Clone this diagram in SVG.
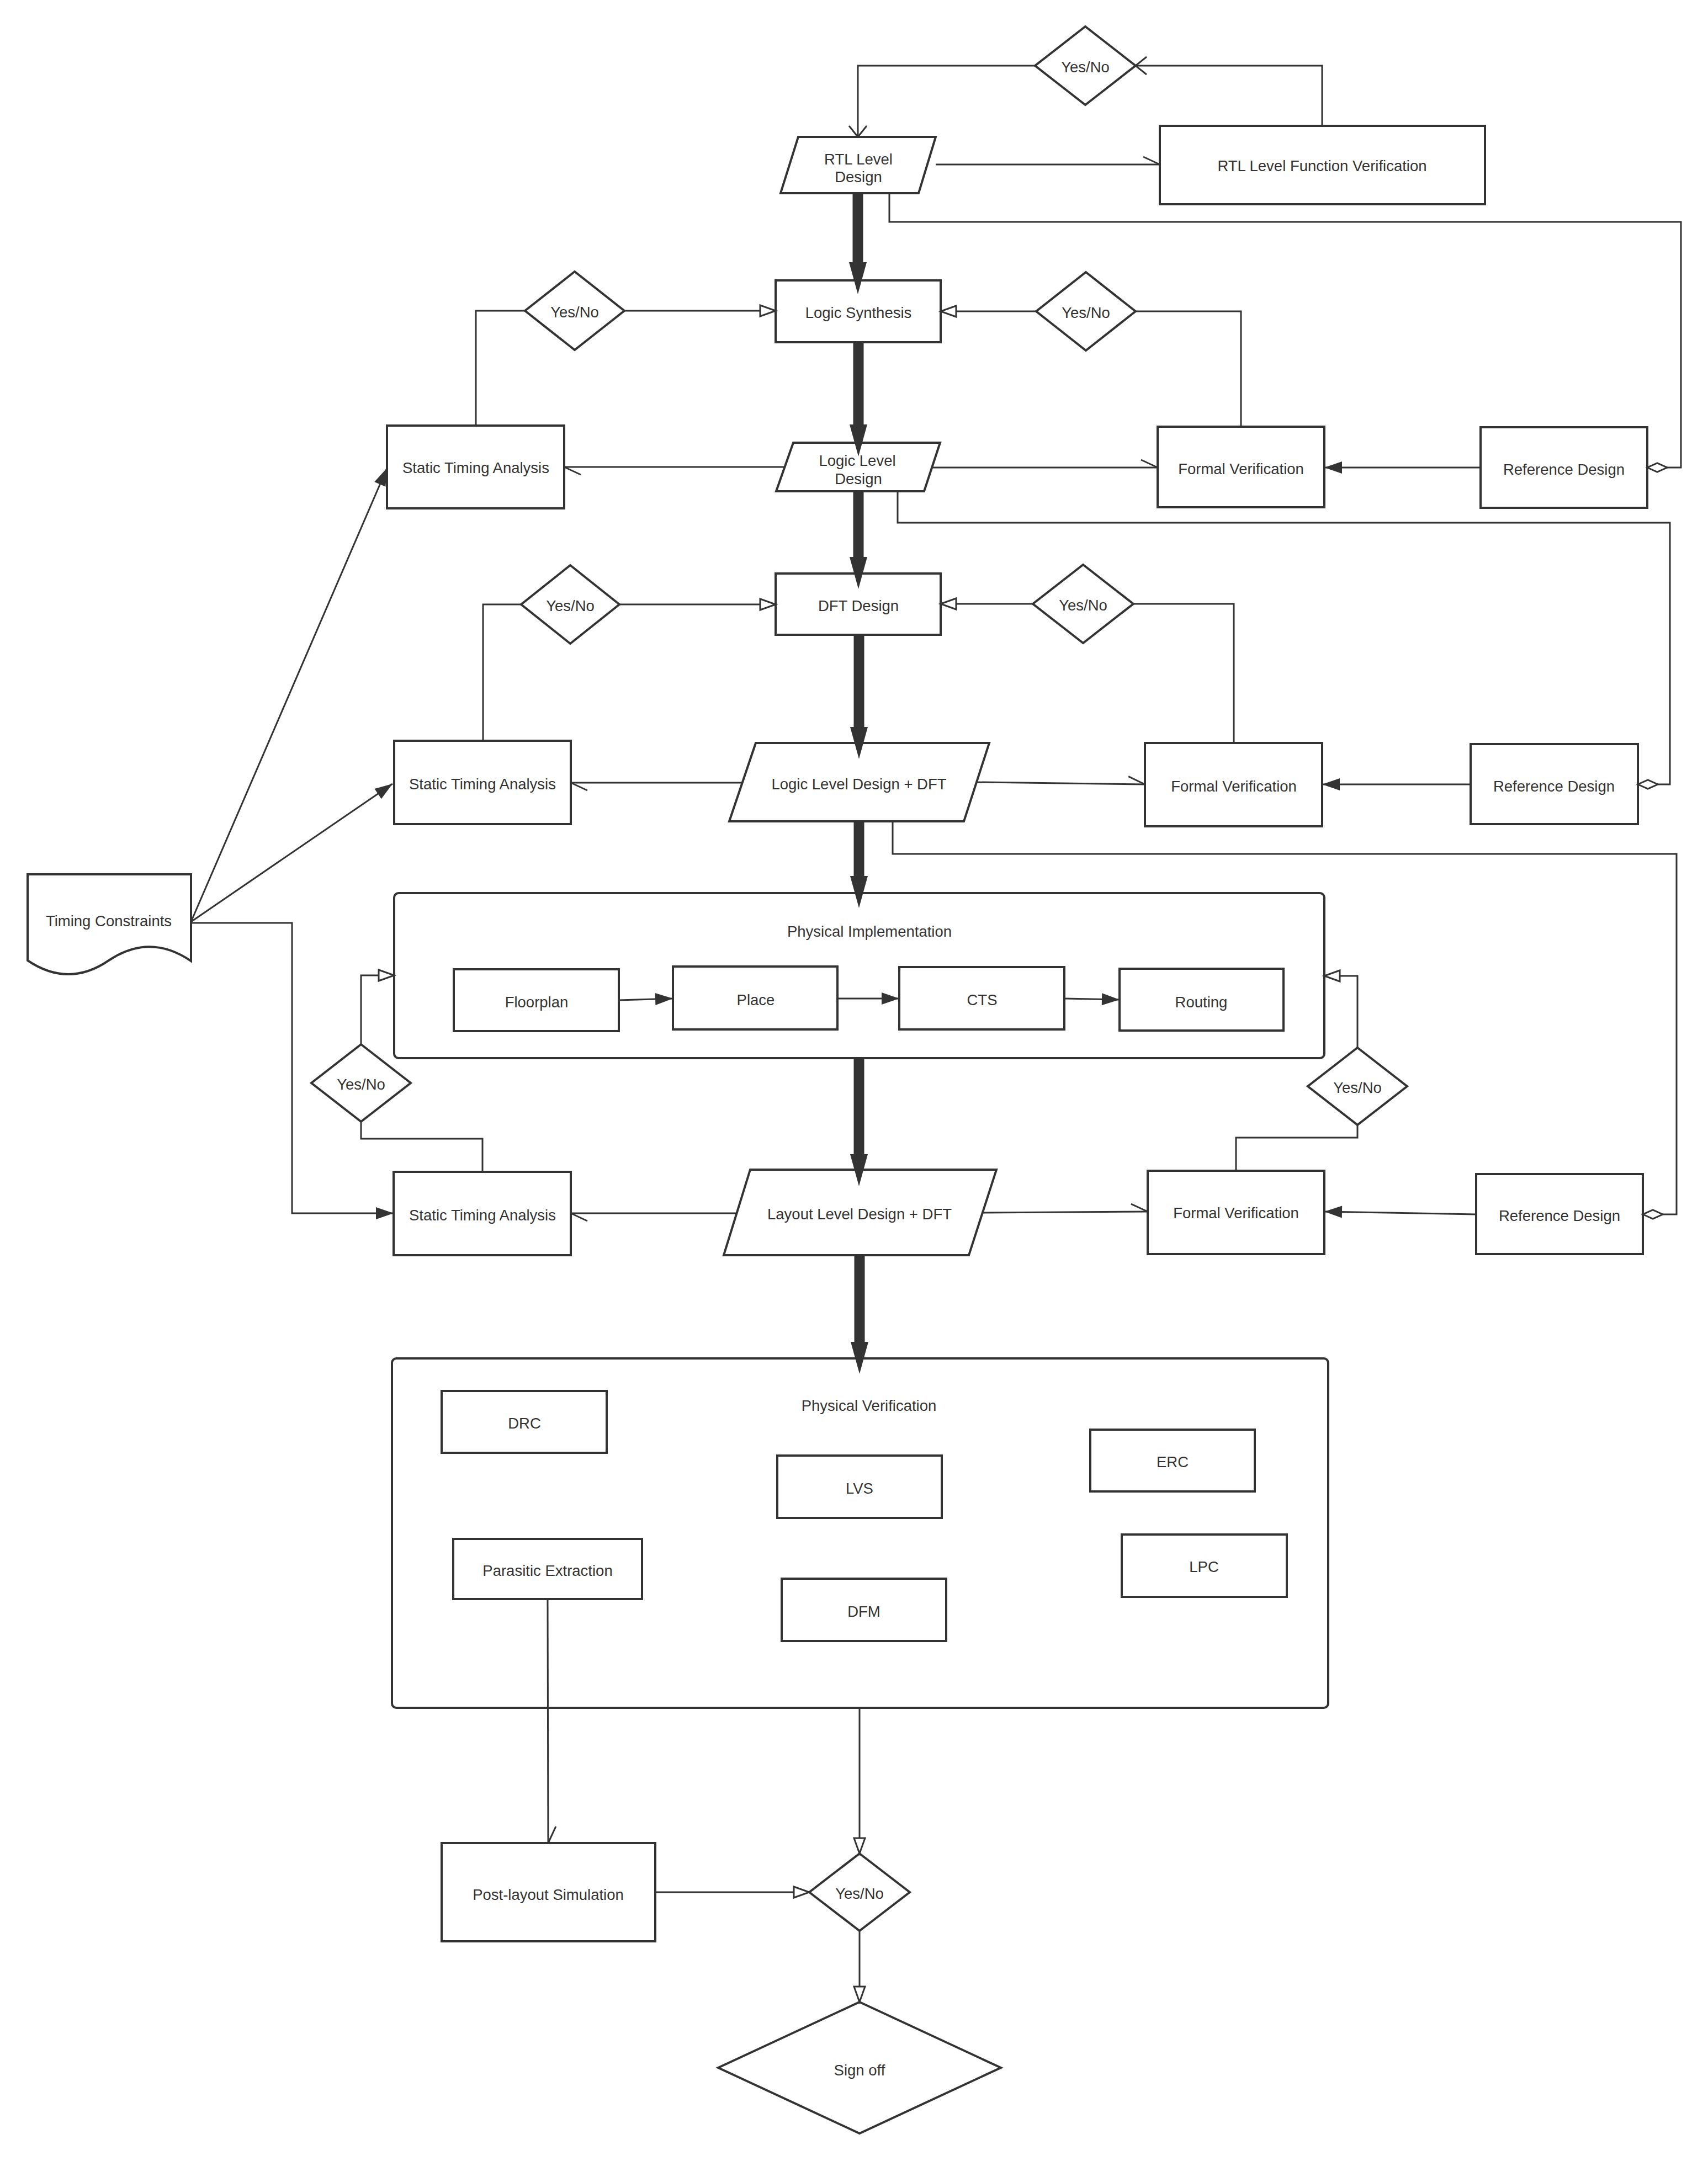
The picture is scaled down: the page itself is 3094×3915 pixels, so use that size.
<svg xmlns="http://www.w3.org/2000/svg" width="3094" height="3915" viewBox="0 0 3094 3915">
<style>
.n{fill:#fff;stroke:#333;stroke-width:4}
.c{fill:none;stroke:#333;stroke-width:3}
.t{fill:none;stroke:#333;stroke-width:19}
text{font-family:"Liberation Sans",Arial,sans-serif;font-size:27.5px;fill:#333;text-anchor:middle;dominant-baseline:central}
</style>
<defs>
<marker id="thick" markerUnits="userSpaceOnUse" orient="auto" overflow="visible" refX="0" refY="0" markerWidth="70" markerHeight="40"><path d="M-8,-16 L50,0 L-8,16 Z" fill="#333"/></marker>
<marker id="open" markerUnits="userSpaceOnUse" orient="auto" overflow="visible" refX="0" refY="0" markerWidth="30" markerHeight="40"><path d="M-20,-16 L0,0 L-20,16" fill="none" stroke="#333" stroke-width="3"/></marker>
<marker id="hollow" markerUnits="userSpaceOnUse" orient="auto" overflow="visible" refX="0" refY="0" markerWidth="30" markerHeight="30"><path d="M-28,-10 L0,0 L-28,10 Z" fill="#fff" stroke="#333" stroke-width="3"/></marker>
<marker id="filled" markerUnits="userSpaceOnUse" orient="auto" overflow="visible" refX="0" refY="0" markerWidth="34" markerHeight="30"><path d="M-32,-11 L0,0 L-32,11 Z" fill="#333"/></marker>
<marker id="half" markerUnits="userSpaceOnUse" orient="auto" overflow="visible" refX="0" refY="0" markerWidth="34" markerHeight="30"><path d="M-30,-14 L0,0" fill="none" stroke="#333" stroke-width="3"/></marker>
<marker id="dia" markerUnits="userSpaceOnUse" orient="auto" overflow="visible" refX="0" refY="0" markerWidth="40" markerHeight="20"><path d="M0,0 L-18,-8 L-36,0 L-18,8 Z" fill="#fff" stroke="#333" stroke-width="3"/></marker>
</defs>
<rect width="3094" height="3915" fill="#fff"/>

<g id="physical-implementation"><rect class="n" x="714" y="1618" width="1685" height="299" rx="8"/><text x="1575" y="1687">Physical Implementation</text></g>
<g id="physical-verification"><rect class="n" x="710" y="2461" width="1696" height="633" rx="8"/><text x="1574" y="2546">Physical Verification</text></g>

<g id="rtl-design"><polygon class="n" points="1446,248 1695,248 1664,350 1414,350"/><text x="1555" y="288">RTL Level</text><text x="1555" y="320">Design</text></g>
<g id="yesno-top"><polygon class="n" points="1966,48 2057,119 1966,190 1875,119"/><text x="1966" y="121">Yes/No</text></g>
<g id="rtl-func-verif"><rect class="n" x="2101" y="228" width="589" height="142"/><text x="2395" y="300">RTL Level Function Verification</text></g>

<g id="logic-synthesis"><rect class="n" x="1405" y="508" width="299" height="112"/><text x="1555" y="566">Logic Synthesis</text></g>
<g id="yesno-ls-left"><polygon class="n" points="1041,492 1131,563 1041,634 951,563"/><text x="1041" y="565">Yes/No</text></g>
<g id="yesno-ls-right"><polygon class="n" points="1967,493 2057,564 1967,635 1877,564"/><text x="1967" y="566">Yes/No</text></g>
<g id="sta-1"><rect class="n" x="701" y="771" width="321" height="150"/><text x="862" y="847">Static Timing Analysis</text></g>
<g id="logic-level-design"><polygon class="n" points="1437,802 1703,802 1674,890 1406,890"/><text x="1553" y="834">Logic Level</text><text x="1555" y="867">Design</text></g>
<g id="fv-1"><rect class="n" x="2097" y="773" width="302" height="146"/><text x="2248" y="849">Formal Verification</text></g>
<g id="ref-1"><rect class="n" x="2682" y="774" width="302" height="146"/><text x="2833" y="850">Reference Design</text></g>

<g id="dft-design"><rect class="n" x="1405" y="1039" width="299" height="111"/><text x="1555" y="1097">DFT Design</text></g>
<g id="yesno-dft-left"><polygon class="n" points="1033,1024 1122,1095 1033,1166 944,1095"/><text x="1033" y="1097">Yes/No</text></g>
<g id="yesno-dft-right"><polygon class="n" points="1962,1023 2053,1094 1962,1165 1871,1094"/><text x="1962" y="1096">Yes/No</text></g>
<g id="sta-2"><rect class="n" x="714" y="1342" width="320" height="151"/><text x="874" y="1420">Static Timing Analysis</text></g>
<g id="logic-dft"><polygon class="n" points="1369,1346 1792,1346 1746,1488 1321,1488"/><text x="1556" y="1420">Logic Level Design + DFT</text></g>
<g id="fv-2"><rect class="n" x="2074" y="1346" width="321" height="151"/><text x="2235" y="1424">Formal Verification</text></g>
<g id="ref-2"><rect class="n" x="2664" y="1348" width="303" height="145"/><text x="2815" y="1424">Reference Design</text></g>

<g id="timing-constraints"><path class="n" d="M50,1584 H346 V1741 Q271,1690 197,1740 Q124,1790 50,1740 Z"/><text x="197" y="1668">Timing Constraints</text></g>

<g id="floorplan"><rect class="n" x="822" y="1756" width="299" height="112"/><text x="972" y="1815">Floorplan</text></g>
<g id="place"><rect class="n" x="1219" y="1751" width="298" height="114"/><text x="1369" y="1811">Place</text></g>
<g id="cts"><rect class="n" x="1629" y="1752" width="299" height="113"/><text x="1779" y="1811">CTS</text></g>
<g id="routing"><rect class="n" x="2028" y="1755" width="297" height="112"/><text x="2176" y="1815">Routing</text></g>
<g id="yesno-pi-left"><polygon class="n" points="654,1892 744,1962 654,2032 564,1962"/><text x="654" y="1964">Yes/No</text></g>
<g id="yesno-pi-right"><polygon class="n" points="2459,1898 2549,1968 2459,2038 2369,1968"/><text x="2459" y="1970">Yes/No</text></g>
<g id="sta-3"><rect class="n" x="713" y="2123" width="321" height="151"/><text x="874" y="2201">Static Timing Analysis</text></g>
<g id="layout-dft"><polygon class="n" points="1359,2119 1805,2119 1755,2274 1311,2274"/><text x="1557" y="2199">Layout Level Design + DFT</text></g>
<g id="fv-3"><rect class="n" x="2079" y="2121" width="320" height="151"/><text x="2239" y="2197">Formal Verification</text></g>
<g id="ref-3"><rect class="n" x="2674" y="2127" width="302" height="145"/><text x="2825" y="2202">Reference Design</text></g>

<g id="drc"><rect class="n" x="800" y="2520" width="299" height="112"/><text x="950" y="2578">DRC</text></g>
<g id="lvs"><rect class="n" x="1408" y="2637" width="298" height="113"/><text x="1557" y="2696">LVS</text></g>
<g id="erc"><rect class="n" x="1975" y="2590" width="298" height="112"/><text x="2124" y="2648">ERC</text></g>
<g id="parasitic-extraction"><rect class="n" x="821" y="2788" width="342" height="109"/><text x="992" y="2845">Parasitic Extraction</text></g>
<g id="dfm"><rect class="n" x="1416" y="2860" width="298" height="113"/><text x="1565" y="2919">DFM</text></g>
<g id="lpc"><rect class="n" x="2032" y="2780" width="299" height="113"/><text x="2181" y="2838">LPC</text></g>

<g id="post-layout-sim"><rect class="n" x="800" y="3339" width="387" height="178"/><text x="993" y="3432">Post-layout Simulation</text></g>
<g id="yesno-final"><polygon class="n" points="1557,3358 1648,3428 1557,3498 1466,3428"/><text x="1557" y="3430">Yes/No</text></g>
<g id="sign-off"><polygon class="n" points="1557,3627 1813,3746 1557,3865 1301,3746"/><text x="1557" y="3750">Sign off</text></g>

<g id="connectors">
<path class="t" d="M1554,350 V483" marker-end="url(#thick)"/>
<path class="t" d="M1555,620 V777" marker-end="url(#thick)"/>
<path class="t" d="M1555,890 V1017" marker-end="url(#thick)"/>
<path class="t" d="M1556,1150 V1325" marker-end="url(#thick)"/>
<path class="t" d="M1556,1488 V1595" marker-end="url(#thick)"/>
<path class="t" d="M1556,1917 V2099" marker-end="url(#thick)"/>
<path class="t" d="M1557,2274 V2439" marker-end="url(#thick)"/>
<path class="c" d="M1875,119 H1554 V248" marker-end="url(#open)"/>
<path class="c" d="M2395,228 V119 H2057" marker-end="url(#open)"/>
<path class="c" d="M1695,298 H2101" marker-end="url(#half)"/>
<path class="c" d="M1611,350 V402 H3045 V847 H2984" marker-end="url(#dia)"/>
<path class="c" d="M862,771 V563 H952"/>
<path class="c" d="M1131,563 H1405" marker-end="url(#hollow)"/>
<path class="c" d="M2248,773 V564 H2057"/>
<path class="c" d="M1878,564 H1704" marker-end="url(#hollow)"/>
<path class="c" d="M1420,846 H1022" marker-end="url(#half)"/>
<path class="c" d="M1689,847 H2097" marker-end="url(#half)"/>
<path class="c" d="M2682,847 H2399" marker-end="url(#filled)"/>
<path class="c" d="M1626,890 V947 H3025 V1421 H2967" marker-end="url(#dia)"/>
<path class="c" d="M875,1342 V1095 H943"/>
<path class="c" d="M1122,1095 H1405" marker-end="url(#hollow)"/>
<path class="c" d="M2235,1346 V1094 H2053"/>
<path class="c" d="M1872,1094 H1704" marker-end="url(#hollow)"/>
<path class="c" d="M1345,1418 H1034" marker-end="url(#half)"/>
<path class="c" d="M1769,1417 L2074,1421" marker-end="url(#half)"/>
<path class="c" d="M2664,1421 H2395" marker-end="url(#filled)"/>
<path class="c" d="M1617,1488 V1547 H3037 V2200 H2976" marker-end="url(#dia)"/>
<path class="c" d="M346,1670 L701,848" marker-end="url(#filled)"/>
<path class="c" d="M346,1670 L711,1420" marker-end="url(#filled)"/>
<path class="c" d="M346,1672 H529 V2198 H713" marker-end="url(#filled)"/>
<path class="c" d="M1121,1812 L1219,1809" marker-end="url(#filled)"/>
<path class="c" d="M1517,1809 H1629" marker-end="url(#filled)"/>
<path class="c" d="M1928,1809 L2028,1811" marker-end="url(#filled)"/>
<path class="c" d="M654,1892 V1767 H714" marker-end="url(#hollow)"/>
<path class="c" d="M874,2123 V2063 H654 V2032"/>
<path class="c" d="M2459,1898 V1768 H2399" marker-end="url(#hollow)"/>
<path class="c" d="M2239,2121 V2061 H2459 V2038"/>
<path class="c" d="M1335,2198 H1034" marker-end="url(#half)"/>
<path class="c" d="M1778,2197 L2079,2195" marker-end="url(#half)"/>
<path class="c" d="M2674,2200 L2399,2195" marker-end="url(#filled)"/>
<path class="c" d="M992,2897 L993,3339" marker-end="url(#half)"/>
<path class="c" d="M1557,3094 V3358" marker-end="url(#hollow)"/>
<path class="c" d="M1187,3428 H1466" marker-end="url(#hollow)"/>
<path class="c" d="M1557,3498 V3627" marker-end="url(#hollow)"/>
</g>
</svg>
